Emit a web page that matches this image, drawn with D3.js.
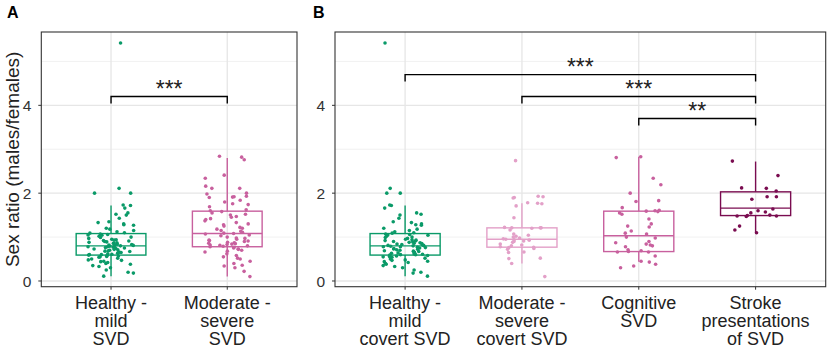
<!DOCTYPE html>
<html>
<head>
<meta charset="utf-8">
<script src="https://cdn.jsdelivr.net/npm/d3@7"></script>
<style>
  body { margin: 0; background: #fff; }
  svg { font-family: "Liberation Sans", Arial, sans-serif; }
</style>
</head>
<body>
<svg class="d3" width="829" height="349"></svg>
<script>
const width = 829
const height = 349

// groups
const groupsA = ["Healthy - mild SVD", "Moderate - severe SVD"]
const groupsB = ["Healthy - mild covert SVD", "Moderate - severe covert SVD", "Cognitive SVD", "Stroke presentations of SVD"]
const labelsA = [["Healthy -", "mild", "SVD"], ["Moderate -", "severe", "SVD"]]
const labelsB = [["Healthy -", "mild", "covert SVD"], ["Moderate -", "severe", "covert SVD"], ["Cognitive", "SVD"], ["Stroke", "presentations", "of SVD"]]
const colorsA = ["#0a9a68", "#c8609e"]
const colorsB = ["#0a9a68", "#e3a0c8", "#c8609e", "#7a0c50"]

// points (sex ratio)
const healthyMild = [5.42, 2.11, 2.0, 2.0, 1.73, 1.72, 1.66, 1.55, 1.52, 1.50, 1.43, 1.35, 1.33, 1.30, 1.28, 1.27,
    1.20, 1.18, 1.15, 1.12, 1.10, 1.09, 1.07, 1.06, 1.05, 1.04, 1.02, 1.0, 0.99, 0.97, 0.95, 0.94, 0.93, 0.92,
    0.91, 0.90, 0.89, 0.88, 0.87, 0.86, 0.85, 0.84, 0.83, 0.82, 0.81, 0.81, 0.80, 0.79, 0.78, 0.78, 0.77, 0.76,
    0.75, 0.74, 0.73, 0.72, 0.71, 0.70, 0.69, 0.68, 0.67, 0.66, 0.65, 0.64, 0.63, 0.62, 0.61, 0.60, 0.60, 0.59,
    0.58, 0.57, 0.56, 0.55, 0.54, 0.52, 0.50, 0.48, 0.47, 0.45, 0.44, 0.42, 0.40, 0.38, 0.35, 0.33, 0.30, 0.25,
    0.20, 0.18, 0.11]
const moderateSevere = [2.84, 2.82, 2.76, 2.41, 2.34, 2.16, 2.11, 2.11, 2.0, 1.98, 1.93, 1.92, 1.91, 1.90, 1.84,
    1.80, 1.76, 1.74, 1.69, 1.62, 1.60, 1.58, 1.55, 1.52, 1.50, 1.47, 1.45, 1.42, 1.40, 1.37, 1.33, 1.30, 1.28,
    1.25, 1.22, 1.20, 1.18, 1.15, 1.13, 1.11, 1.09, 1.08, 1.07, 1.05, 1.03, 1.0, 0.98, 0.97, 0.95, 0.93, 0.92,
    0.91, 0.90, 0.88, 0.87, 0.86, 0.85, 0.84, 0.83, 0.82, 0.81, 0.80, 0.79, 0.78, 0.77, 0.75, 0.73, 0.72, 0.70,
    0.68, 0.66, 0.62, 0.58, 0.55, 0.52, 0.50, 0.45, 0.40, 0.36, 0.34, 0.30, 0.22, 0.10]
const moderateCovert = [2.74, 1.93, 1.92, 1.90, 1.89, 1.78, 1.77, 1.76, 1.71, 1.44, 1.22, 1.21, 1.21, 1.21, 1.20,
    1.16, 1.07, 1.04, 1.02, 1.0, 0.98, 0.96, 0.95, 0.94, 0.93, 0.91, 0.90, 0.88, 0.84, 0.82, 0.80, 0.78, 0.77,
    0.76, 0.74, 0.72, 0.66, 0.65, 0.52, 0.51, 0.40, 0.10]
const cognitive = [2.83, 2.81, 2.34, 2.19, 2.0, 1.83, 1.81, 1.67, 1.61, 1.60, 1.59, 1.58, 1.55, 1.52, 1.41, 1.30,
    1.25, 1.23, 1.14, 1.09, 1.07, 1.00, 0.98, 0.90, 0.87, 0.84, 0.82, 0.80, 0.78, 0.71, 0.69, 0.67, 0.66, 0.66,
    0.57, 0.45, 0.43, 0.38, 0.34, 0.30]
const stroke = [2.73, 2.40, 2.12, 2.11, 2.05, 1.92, 1.92, 1.86, 1.64, 1.60, 1.57, 1.55, 1.50, 1.49, 1.48, 1.48,
    1.47, 1.25, 1.16, 1.10]

// box stats: [lower whisker, q1, median, q3, upper whisker]
const boxA = [[0.11, 0.59, 0.80, 1.08, 1.72], [0.10, 0.78, 1.08, 1.59, 2.80]]
const boxB = [[0.11, 0.59, 0.80, 1.08, 1.72], [0.40, 0.77, 0.95, 1.21, 1.77], [0.44, 0.67, 1.03, 1.59, 2.83], [1.09, 1.49, 1.66, 2.03, 2.72]]

// significance brackets: [from, to, y, label]
const sigA = [[0, 1, 4.2, "***"]]
const sigB = [[0, 3, 4.7, "***"], [1, 3, 4.2, "***"], [2, 3, 3.7, "**"]]

const yTicks = [0, 2, 4]
const yMinor = [1, 3, 5]

const svg = d3.select("svg.d3")
    .attr("viewBox", [0, 0, width, height])

const y = d3.scaleLinear().domain([-0.13, 5.67]).range([286.7, 32])

// deterministic jitter
const jit = (i, k) => {
    const s = Math.sin((i + 1) * 12.9898 + k * 78.233) * 43758.5453
    return (s - Math.floor(s)) * 2 - 1
}

function panel(left, right, letter, groups, labels, colors, boxes, points, sigs) {
    const x = d3.scalePoint().domain(groups).range([left, right]).padding(0.6)
    const step = x.step()
    const g = svg.append("g")

    // grid
    g.selectAll(".minor").data(yMinor).join("line")
        .attr("x1", left).attr("x2", right)
        .attr("y1", d => y(d)).attr("y2", d => y(d))
        .attr("stroke", "#ececec").attr("stroke-width", 0.8)
    g.selectAll(".major").data(yTicks).join("line")
        .attr("x1", left).attr("x2", right)
        .attr("y1", d => y(d)).attr("y2", d => y(d))
        .attr("stroke", "#e6e6e6").attr("stroke-width", 1.3)
    g.selectAll(".vgrid").data(groups).join("line")
        .attr("x1", d => x(d)).attr("x2", d => x(d))
        .attr("y1", y.range()[0]).attr("y2", y.range()[1])
        .attr("stroke", "#e6e6e6").attr("stroke-width", 1.3)

    // boxes
    groups.forEach((grp, i) => {
        const cx = x(grp)
        const b = boxes[i]
        const bw = step * 0.6
        const bg = g.append("g").attr("stroke", colors[i]).attr("stroke-width", 1.4).attr("fill", "none")
        bg.append("line").attr("x1", cx).attr("x2", cx).attr("y1", y(b[0])).attr("y2", y(b[1]))
        bg.append("line").attr("x1", cx).attr("x2", cx).attr("y1", y(b[3])).attr("y2", y(b[4]))
        bg.append("rect").attr("x", cx - bw / 2).attr("width", bw)
            .attr("y", y(b[3])).attr("height", y(b[1]) - y(b[3]))
        bg.append("line").attr("x1", cx - bw / 2).attr("x2", cx + bw / 2).attr("y1", y(b[2])).attr("y2", y(b[2]))

        g.append("g").selectAll("circle").data(points[i]).join("circle")
            .attr("cx", (d, j) => cx + jit(j, i + left) * step * 0.2)
            .attr("cy", d => y(d))
            .attr("r", 1.8)
            .attr("fill", colors[i])
    })

    // brackets
    sigs.forEach(s => {
        const x1 = x(groups[s[0]]), x2 = x(groups[s[1]])
        const yy = y(s[2])
        g.append("path")
            .attr("d", `M${x1},${yy + 7}V${yy}H${x2}V${yy + 7}`)
            .attr("fill", "none").attr("stroke", "#000").attr("stroke-width", 1.4)
        g.append("text")
            .attr("x", (x1 + x2) / 2).attr("y", yy + 0.5)
            .attr("text-anchor", "middle")
            .attr("font-size", 23).attr("fill", "#222")
            .text(s[3])
    })

    // border
    g.append("rect")
        .attr("x", left).attr("y", y.range()[1])
        .attr("width", right - left).attr("height", y.range()[0] - y.range()[1])
        .attr("fill", "none").attr("stroke", "#333").attr("stroke-width", 1.1)

    // y ticks
    g.selectAll(".yt").data(yTicks).join("line")
        .attr("x1", left - 3).attr("x2", left)
        .attr("y1", d => y(d)).attr("y2", d => y(d))
        .attr("stroke", "#333")
    g.selectAll(".yl").data(yTicks).join("text")
        .attr("x", left - 10).attr("y", d => y(d))
        .attr("dy", "0.36em").attr("text-anchor", "end")
        .attr("font-size", 15.5).attr("fill", "#333")
        .text(d => d)

    // x ticks and labels
    groups.forEach((grp, i) => {
        g.append("line")
            .attr("x1", x(grp)).attr("x2", x(grp))
            .attr("y1", y.range()[0]).attr("y2", y.range()[0] + 3)
            .attr("stroke", "#333")
        g.append("g").selectAll("text").data(labels[i]).join("text")
            .attr("x", x(grp)).attr("y", (d, k) => 308.5 + k * 18.3)
            .attr("text-anchor", "middle")
            .attr("font-size", 18).attr("fill", "#222")
            .text(d => d)
    })

    svg.append("text")
        .attr("x", letter[1]).attr("y", 18)
        .attr("font-size", 16).attr("font-weight", "bold")
        .text(letter[0])
}

panel(41.3, 297, ["A", 7], groupsA, labelsA, colorsA, boxA, [healthyMild, moderateSevere], sigA)
panel(335, 825.7, ["B", 313], groupsB, labelsB, colorsB, boxB, [healthyMild, moderateCovert, cognitive, stroke], sigB)

svg.append("text")
    .attr("transform", `translate(19,${(y.range()[0] + y.range()[1]) / 2}) rotate(-90)`)
    .attr("text-anchor", "middle")
    .attr("font-size", 19).attr("fill", "#222")
    .text("Sex ratio (males/females)")
</script>
</body>
</html>
